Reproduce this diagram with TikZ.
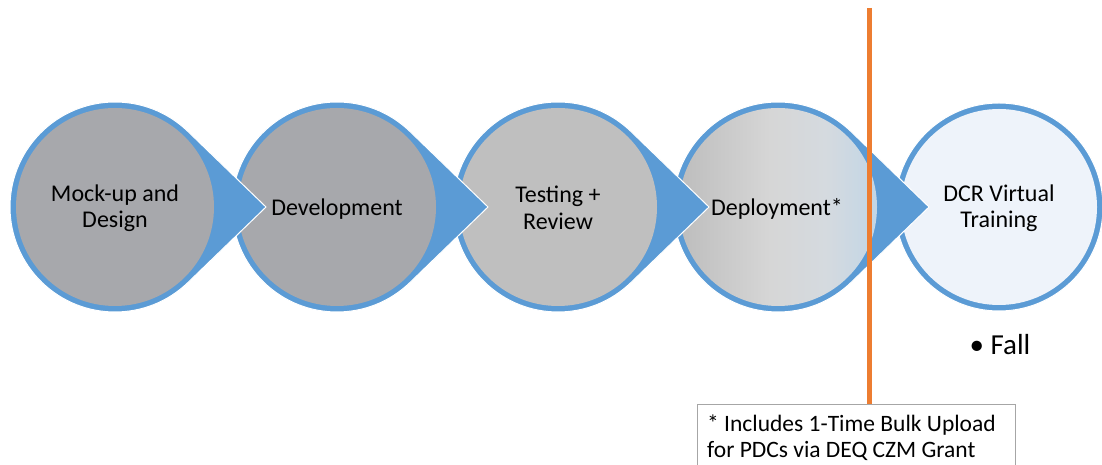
\documentclass[tikz,border=0pt]{standalone}
\usepackage{fontspec}
\setmainfont{Carlito}
\definecolor{ringblue}{HTML}{5B9BD5}
\definecolor{cgray}{HTML}{A7A8AC}
\definecolor{cgrayb}{HTML}{BFBFBF}
\definecolor{gleft}{HTML}{BDBDBD}
\definecolor{gmid}{HTML}{D6D6D6}
\definecolor{gmidb}{HTML}{D5DADF}
\definecolor{gright}{HTML}{C2D6E6}
\definecolor{clight}{HTML}{EEF3FA}
\definecolor{orangeline}{HTML}{ED7D31}
\definecolor{boxgray}{HTML}{A6A6A6}
\pgfdeclarehorizontalshading{deploygrad}{100bp}{color(0bp)=(gleft); color(25bp)=(gleft); color(48bp)=(gmid); color(62bp)=(gmidb); color(75bp)=(gright); color(100bp)=(gright)}
\tikzset{
  drop/.style={fill=ringblue, draw=white, line width=1pt},
  lbl/.style={align=center, font=\fontsize{24}{26.5}\selectfont, text=black, inner sep=0pt},
  notetext/.style={anchor=base west, font=\fontsize{23.5}{26}\selectfont, inner sep=0pt},
}
\newcommand{\teardrop}[1]{%
  \path[drop] ($(#1)+(151pt,0pt)$) -- ($(#1)+(46:105pt)$) arc[start angle=46, end angle=314, radius=105pt] -- cycle;}
\usetikzlibrary{calc}
\begin{document}
\begin{tikzpicture}[x=1pt,y=1pt]
\useasboundingbox (0,0) rectangle (1102,465);
\clip (0,0) rectangle (1102,465);
\coordinate (c1) at (115,258);
\coordinate (c2) at (337,258);
\coordinate (c3) at (558,258);
\coordinate (c4) at (778,258);
\coordinate (c5) at (999,258);
% circle 5 (no pointer)
\path[drop] (c5) circle[radius=104pt];
\path[fill=clight] (c5) circle[radius=98pt];
% circle 4
\teardrop{c4}
\shade[shading=deploygrad] (c4) circle[radius=99pt];
% circle 3
\teardrop{c3}
\path[fill=cgrayb] (c3) circle[radius=99pt];
% circle 2
\teardrop{c2}
\path[fill=cgray] (c2) circle[radius=99pt];
% circle 1
\teardrop{c1}
\path[fill=cgray] (c1) circle[radius=99pt];
% labels
\node[lbl] (t1) at (115,257) {Mock-up and\\Design};
\node[lbl] (t2) at (337,256) {Development};
\node[lbl] (t3) at (558,257) {Testing +\\Review};
\node[lbl] (t4) at (777,256) {Deployment*};
\node[lbl] (t5) at (999,257) {DCR Virtual\\Training};
\node[font=\fontsize{29}{32}\selectfont, inner sep=0pt] (fall) at (1000,120) {\textbullet\ Fall};
% note box
\node[draw=boxgray, line width=1pt, minimum width=318pt, minimum height=90pt, anchor=north west] (note) at (697,61) {};
\node[notetext] (n1) at (707,33) {* Includes 1-Time Bulk Upload};
\node[notetext] (n2) at (707,7) {for PDCs via DEQ CZM Grant};
% orange line
\coordinate (otop) at (869,457);
\draw[orangeline, line width=5pt] (otop) -- (note.north -| otop);
\end{tikzpicture}
\end{document}
